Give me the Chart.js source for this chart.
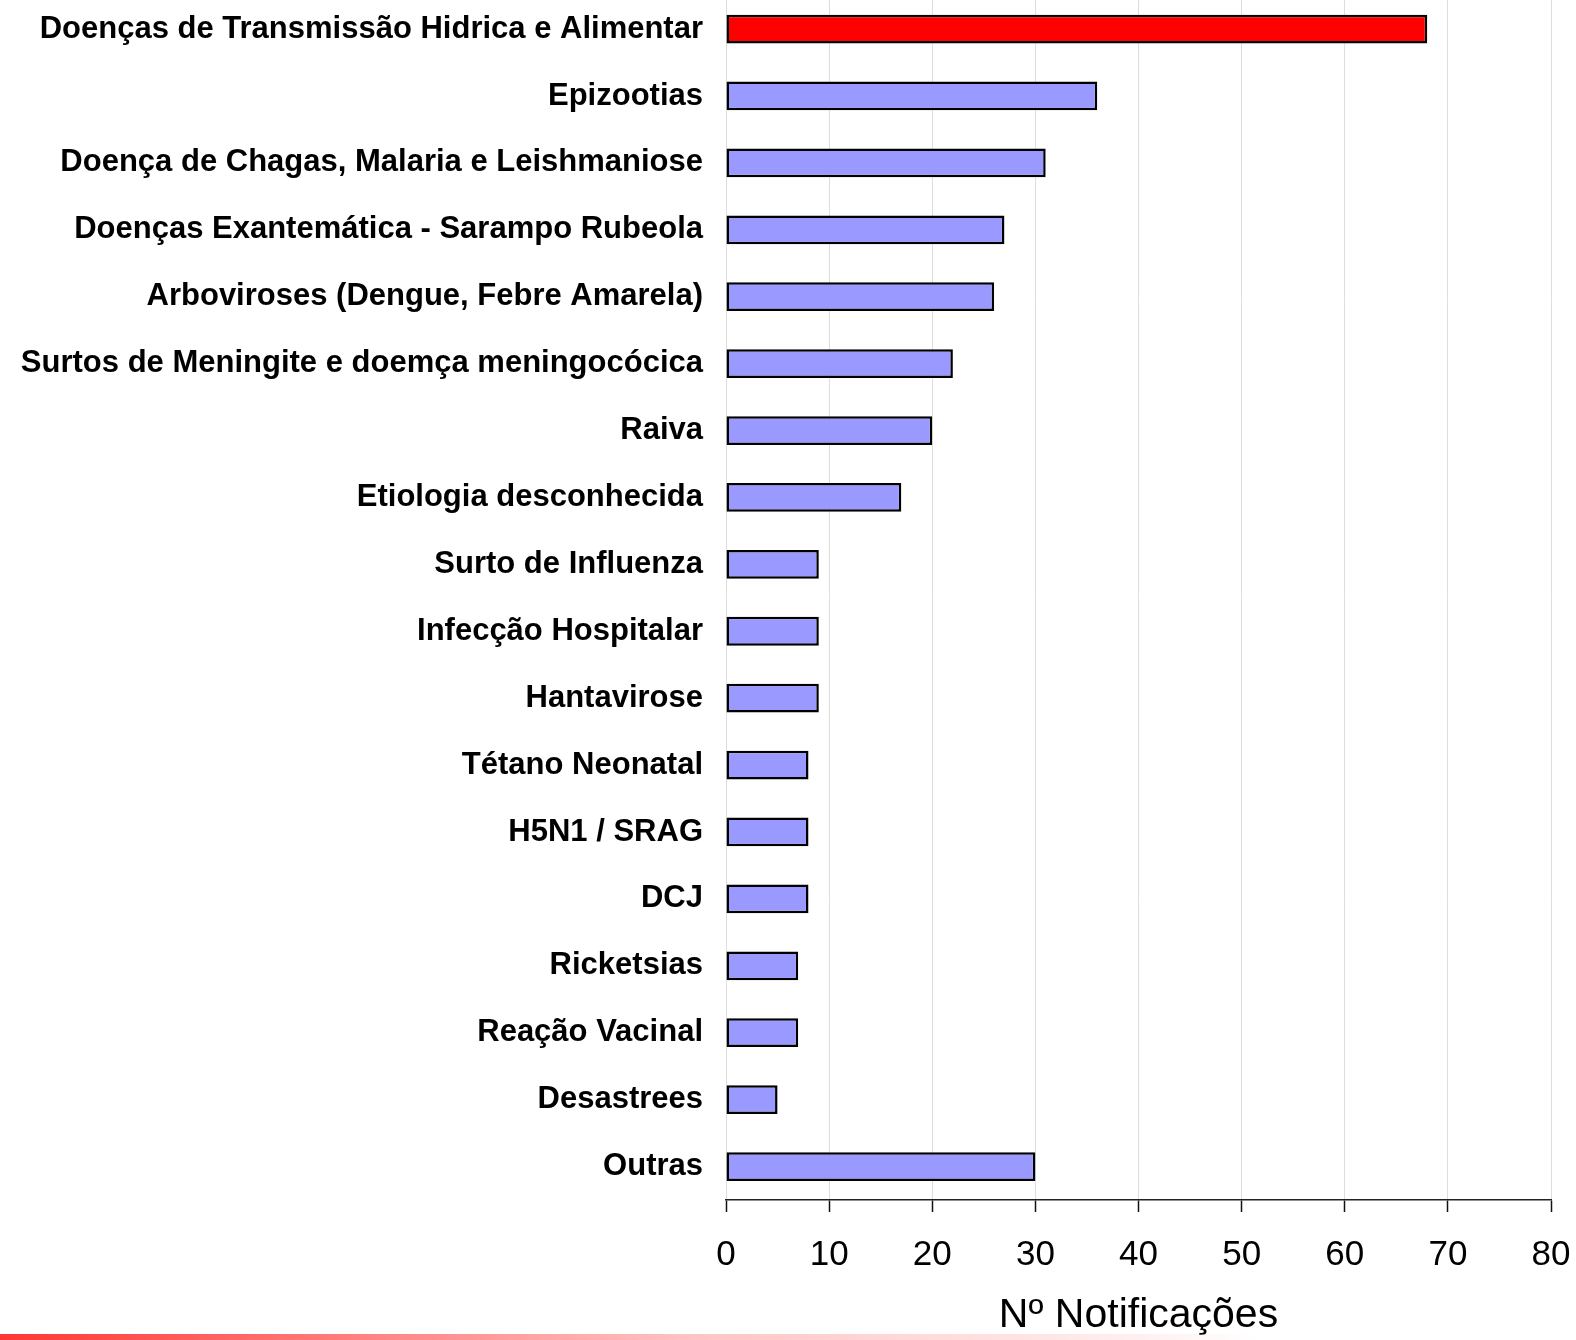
<!DOCTYPE html>
<html>
<head>
<meta charset="utf-8">
<script src="https://cdn.jsdelivr.net/npm/chart.js@4.4.1/dist/chart.umd.min.js"></script>
<style>
    html, body { margin: 0; padding: 0; background: #fff; overflow: hidden; }
    #wrap { position: absolute; left: 0; top: -46px; width: 1576px; height: 1386px; }
    #strip {
        position: absolute; left: 0; top: 1334px; width: 1260px; height: 6px;
        background: linear-gradient(to right, #ff3535 0%, #ff6a6a 20%, #ffc4c4 55%, #ffe8e8 85%, rgba(255,255,255,0) 100%);
    }
</style>
</head>
<body>
<div id="wrap"><canvas id="chart"></canvas></div>
<div id="strip"></div>
<script>
const categories = [
    'Doenças de Transmissão Hidrica e Alimentar',
    'Epizootias',
    'Doença de Chagas, Malaria e Leishmaniose',
    'Doenças Exantemática - Sarampo Rubeola',
    'Arboviroses (Dengue, Febre Amarela)',
    'Surtos de Meningite e doemça meningocócica',
    'Raiva',
    'Etiologia desconhecida',
    'Surto de Influenza',
    'Infecção Hospitalar',
    'Hantavirose',
    'Tétano Neonatal',
    'H5N1 / SRAG',
    'DCJ',
    'Ricketsias',
    'Reação Vacinal',
    'Desastrees',
    'Outras'
];
const notificacoes = [68, 36, 31, 27, 26, 22, 20, 17, 9, 9, 9, 8, 8, 8, 7, 7, 5, 30];
const highlighted = ['Doenças de Transmissão Hidrica e Alimentar'];
const xTicks = [0, 10, 20, 30, 40, 50, 60, 70, 80];

const barColors = categories.map(c => highlighted.includes(c) ? '#ff0000' : '#9999ff');

const ctx = document.getElementById('chart');
new Chart(ctx, {
    type: 'bar',
    data: {
        labels: categories,
        datasets: [{
            label: 'Nº Notificações',
            data: notificacoes,
            backgroundColor: barColors,
            borderColor: '#000000',
            borderWidth: 2.5,
            borderSkipped: false,
            categoryPercentage: 1.0,
            barPercentage: 0.43
        }]
    },
    options: {
        indexAxis: 'y',
        responsive: true,
        maintainAspectRatio: false,
        animation: false,
        layout: { padding: { left: 0, right: 25, top: 0, bottom: 0 } },
        plugins: {
            legend: { display: false },
            tooltip: { enabled: false }
        },
        scales: {
            x: {
                min: xTicks[0],
                max: xTicks[xTicks.length - 1],
                afterBuildTicks: (scale) => { scale.ticks = xTicks.map(v => ({ value: v })); },
                afterFit: (scale) => {
                    scale.height = 140;
                    // let the layout padding decide the right edge, not the "80" label
                    scale.paddingLeft = 0;
                    scale.paddingRight = 0;
                },
                ticks: {
                    color: '#000',
                    padding: 22,
                    font: { family: '"Liberation Sans", Arial, sans-serif', size: 35 }
                },
                grid: {
                    color: '#dedede',
                    lineWidth: 1,
                    tickColor: '#111',
                    tickLength: 12,
                    tickWidth: 1.5
                },
                border: { color: '#222', width: 1.5 },
                title: {
                    display: true,
                    text: 'Nº Notificações',
                    color: '#000',
                    padding: { top: 0, bottom: 0 },
                    font: { family: '"Liberation Sans", Arial, sans-serif', size: 41 }
                }
            },
            y: {
                afterFit: (scale) => { scale.width = 726; },
                ticks: {
                    color: '#000',
                    padding: 23,
                    font: { family: '"Liberation Sans", Arial, sans-serif', size: 31, weight: 'bold' }
                },
                grid: { display: false, drawTicks: false },
                border: { display: false }
            }
        }
    }
});
</script>
</body>
</html>
